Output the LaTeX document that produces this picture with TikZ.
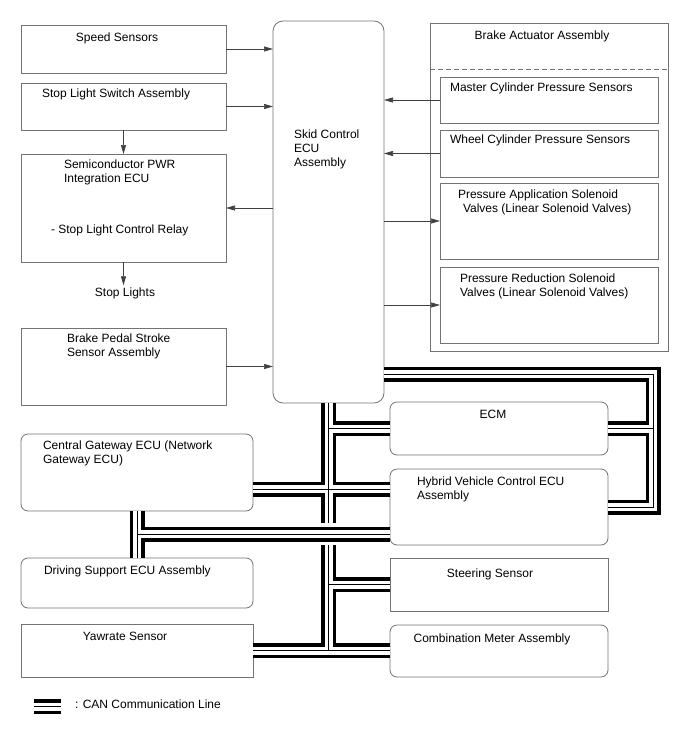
\documentclass[tikz,border=0pt]{standalone}
\usepackage{fontspec}
\setmainfont{Liberation Sans}
\usetikzlibrary{arrows.meta}
\newcommand\cannet[1]{%
\draw[#1] (skid.south) -- (skid.south |- 0,523);
\draw[#1] (skid.south |- ecm.west) -- (ecm.west);
\draw[#1] (cg.east |- 0,489) -- (hv.west |- 0,489);
\draw[#1] (skid.east |- 0,374) -- (rx |- 0,374) -- (rx |- hv.east) -- (hv.east);
\draw[#1] (ecm.east) -- (rx |- ecm.east);
\draw[#1] (cg.south) -- (dsecu.north);
\draw[#1] (cg.south |- 0,534) -- (hv.west |- 0,534);
\draw[#1] (skid.south |- 0,545) -- (skid.south |- yaw.east);
\draw[#1] (skid.south |- steer.west) -- (steer.west);
\draw[#1] (yaw.east) -- (yaw.east -| comb.west);
\draw[#1] (lega) -- (legb);
}
\begin{document}
\begin{tikzpicture}[x=1pt,y=-1pt,
 bx/.style={draw=black!55,line width=0.8pt,inner sep=0pt,outer sep=0pt,anchor=north west},
 rbx/.style={bx,rounded corners=7pt},
 tx/.style={inner sep=0pt,outer sep=0pt,font=\fontsize{12}{14}\selectfont},
 arr/.style={draw=black!75,line width=0.7pt,-{Triangle[length=9pt,width=5pt]}},
 canA/.style={line width=15pt,black},
 canB/.style={line width=8pt,white},
 canC/.style={line width=1pt,black}]
\useasboundingbox (0,0) rectangle (688,755);
\fill[white] (0,0) rectangle (688,755);

% boxes
\node[bx,minimum width=205pt,minimum height=48pt] (speed) at (21,25) {};
\node[bx,minimum width=205pt,minimum height=47pt] (sls) at (21,83) {};
\node[bx,minimum width=205pt,minimum height=108pt] (semi) at (21,154) {};
\node[bx,minimum width=205pt,minimum height=77pt] (bpss) at (21,328) {};
\node[bx,rounded corners=10pt,minimum width=111pt,minimum height=382pt] (skid) at (273,21) {};
\node[bx,minimum width=238pt,minimum height=328pt] (baa) at (430,23) {};
\node[bx,minimum width=218pt,minimum height=46pt] (mcps) at (440,77) {};
\node[bx,minimum width=218pt,minimum height=47pt] (wcps) at (440,130) {};
\node[bx,minimum width=218pt,minimum height=76pt] (pasv) at (440,183) {};
\node[bx,minimum width=218pt,minimum height=76pt] (prsv) at (440,267) {};
\node[rbx,minimum width=232pt,minimum height=77pt] (cg) at (21,434) {};
\node[rbx,minimum width=218pt,minimum height=53pt] (ecm) at (390,402) {};
\node[rbx,minimum width=218pt,minimum height=76pt] (hv) at (390,469) {};
\node[rbx,minimum width=232pt,minimum height=50pt] (dsecu) at (21,558) {};
\node[bx,minimum width=218pt,minimum height=53pt] (steer) at (390,558) {};
\node[bx,minimum width=232pt,minimum height=53pt] (yaw) at (21,624) {};
\node[rbx,minimum width=218pt,minimum height=52pt] (comb) at (390,625) {};

\draw[draw=black!55,line width=0.8pt,dash pattern=on 5pt off 3pt] (baa.west |- 0,69) -- (baa.east |- 0,69);

% texts
\node[tx,anchor=base] (tspeed) at (117,41) {Speed Sensors};
\node[tx,anchor=base west] (tsls) at (42,97) {Stop Light Switch Assembly};
\node[tx,anchor=base west] (tsemi1) at (64,168) {Semiconductor PWR};
\node[tx,anchor=base west] (tsemi2) at (64,182) {Integration ECU};
\node[tx,anchor=base west] (tsemi3) at (51,233) {- Stop Light Control Relay};
\node[tx,anchor=base] (stoplights) at (125,296) {Stop Lights};
\node[tx,anchor=base west] (tbpss1) at (67,342) {Brake Pedal Stroke};
\node[tx,anchor=base west] (tbpss2) at (67,356) {Sensor Assembly};
\node[tx,anchor=base west] (tskid1) at (294,138) {Skid Control};
\node[tx,anchor=base west] (tskid2) at (294,152) {ECU};
\node[tx,anchor=base west] (tskid3) at (294,166) {Assembly};
\node[tx,anchor=base] (tbaa) at (542,39) {Brake Actuator Assembly};
\node[tx,anchor=base west] (tmcps) at (450,91) {Master Cylinder Pressure Sensors};
\node[tx,anchor=base west] (twcps) at (450,143) {Wheel Cylinder Pressure Sensors};
\node[tx,anchor=base west] (tpasv1) at (458,198) {Pressure Application Solenoid};
\node[tx,anchor=base west] (tpasv2) at (463,212) {Valves (Linear Solenoid Valves)};
\node[tx,anchor=base west] (tprsv1) at (460,282) {Pressure Reduction Solenoid};
\node[tx,anchor=base west] (tprsv2) at (460,296) {Valves (Linear Solenoid Valves)};
\node[tx,anchor=base west] (tcg1) at (43,449) {Central Gateway ECU (Network};
\node[tx,anchor=base west] (tcg2) at (43,463) {Gateway ECU)};
\node[tx,anchor=base] (tecm) at (493,418) {ECM};
\node[tx,anchor=base west] (thv1) at (417,485) {Hybrid Vehicle Control ECU};
\node[tx,anchor=base west] (thv2) at (417,499) {Assembly};
\node[tx,anchor=base west] (tds) at (44,574) {Driving Support ECU Assembly};
\node[tx,anchor=base] (tsteer) at (490,577) {Steering Sensor};
\node[tx,anchor=base] (tyaw) at (125,640) {Yawrate Sensor};
\node[tx,anchor=base] (tcomb) at (492,642) {Combination Meter Assembly};
\node[tx,anchor=base west] (tleg) at (75,708) {: CAN Communication Line};

% arrows
\draw[arr] (speed.east) -- (speed.east -| skid.west);
\draw[arr] (sls.east) -- (sls.east -| skid.west);
\draw[arr] (semi.east -| skid.west) -- (semi.east);
\draw[arr] (bpss.east) -- (bpss.east -| skid.west);
\draw[arr] (mcps.west) -- (mcps.west -| skid.east);
\draw[arr] (wcps.west) -- (wcps.west -| skid.east);
\draw[arr] (pasv.west -| skid.east) -- (pasv.west);
\draw[arr] (prsv.west -| skid.east) -- (prsv.west);
\draw[arr] (sls.south) -- (semi.north);
\draw[arr,shorten >=2pt] (semi.south) -- (semi.south |- stoplights.north);

% CAN network
\coordinate (rx) at (653,0);
\coordinate (lega) at (34,706.5);
\coordinate (legb) at (61,706.5);
\cannet{canA}
\cannet{canB}
\cannet{canC}
\end{tikzpicture}
\end{document}
